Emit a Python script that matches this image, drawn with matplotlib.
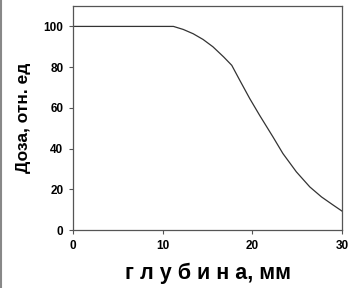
import matplotlib
matplotlib.use("Agg")
import matplotlib.pyplot as plt
from matplotlib.lines import Line2D

depth = [0, 5, 9.7, 11.2, 12.3, 13.4, 14.5, 15.6, 16.8, 17.7, 18.6, 19.7, 20.8, 22.3, 23.4, 24.9, 26.4, 27.7, 29.0, 30]
dose = [100, 100, 100, 100, 98.5, 96.4, 93.6, 90, 85, 80.9, 73.5, 64.6, 56.4, 45.7, 37.6, 28.6, 21.2, 16.3, 12.3, 9.3]
xticks = [0, 10, 20, 30]
yticks = [0, 20, 40, 60, 80, 100]

plt.rcParams['font.family'] = ['Liberation Sans', 'DejaVu Sans']
fig = plt.figure(figsize=(3.56, 2.88), dpi=100)
ax = fig.add_axes([0.205, 0.201, 0.756, 0.778])
ax.plot(depth, dose, color='#333333', lw=0.9)
ax.set_xlim(0, 30)
ax.set_ylim(0, 110)
ax.set_xticks(xticks)
ax.set_yticks(yticks)
ax.tick_params(direction='out', length=3, width=0.8, color='#555555', labelsize=8.5, pad=4)
for lab in ax.get_xticklabels() + ax.get_yticklabels():
    lab.set_fontweight('bold')
for s in ax.spines.values():
    s.set_color('#555555')
    s.set_linewidth(0.9)
ax.set_xlabel('г л у б и н а, мм', fontsize=15.5, fontweight='bold', labelpad=8)
ax.set_ylabel('Доза, отн. ед', fontsize=12.5, fontweight='bold', labelpad=9)
fig.add_artist(Line2D([0.003, 0.003], [0, 1], transform=fig.transFigure, color='#888888', lw=1.5))
fig.savefig('out.png', dpi=100)
